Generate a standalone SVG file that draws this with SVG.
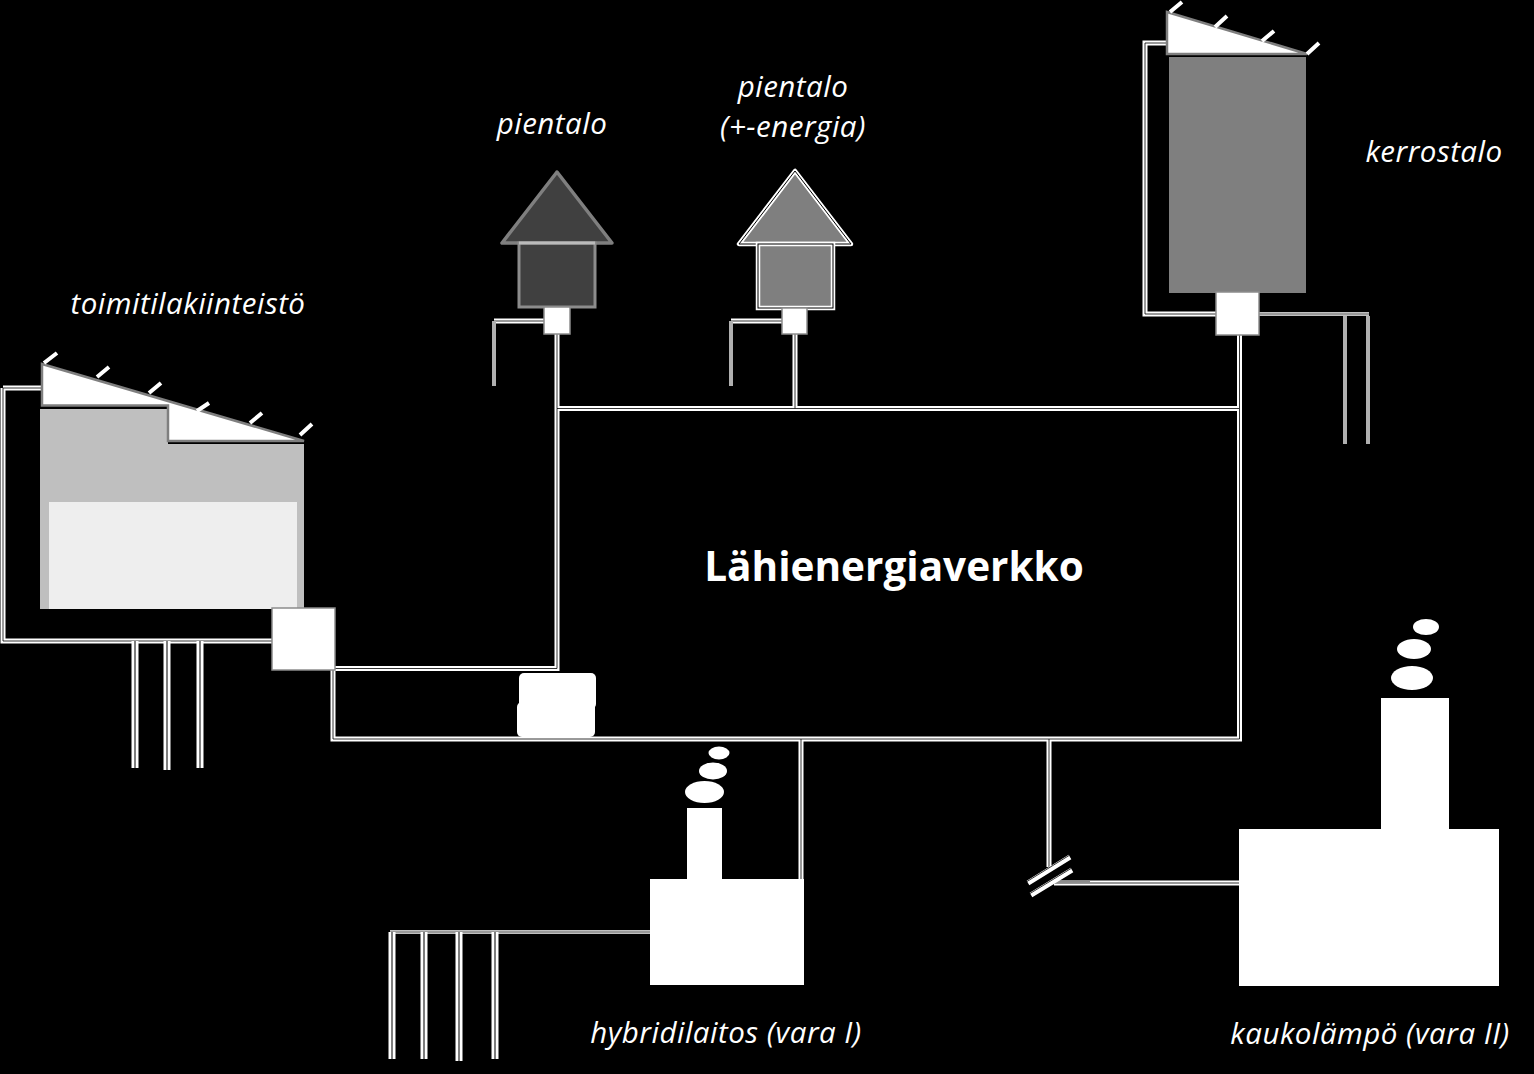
<svg xmlns="http://www.w3.org/2000/svg" width="1534" height="1074" viewBox="0 0 1534 1074">
<style>
text{font-family:"Open Sans","Noto Sans","Liberation Sans",sans-serif;fill:#fff}
.lbl{font-size:29.500px;font-style:italic;letter-spacing:.5px}
.title{font-size:40.500px;font-weight:700}
.w{fill:#fff}
.box{fill:#fff;stroke:#8c8c8c;stroke-width:1.5}
.solar{fill:#fff;stroke:#7f7f7f;stroke-width:2.5}
.tick{stroke:#fff;stroke-width:4;fill:none}
.o{fill:none;stroke:#fff;stroke-width:5}
.i{fill:none;stroke:#000;stroke-width:.8}
.t{fill:none;stroke:#fff;stroke-width:3.5}
.p{fill:none;stroke:#fff;stroke-width:7}
.q{fill:none;stroke:#555;stroke-width:1.5}
.g{fill:none;stroke:#b0b0b0;stroke-width:4}
</style>
<defs>
<path id="net" d="M557 408.500H1239.500V739H333V670M557 408.500V668.500H335M557 334V408.500M795 334V408.500M1239.500 335V408.500M801 739V879M1049 739V867M3 388H42M3 388V641H272M544 321H494M782 321H731M1167 43H1145V314H1216"/>
<path id="thin" d="M1259 314H1369M650 932H390"/>
<path id="gp" d="M135 641V768M167 641V770M200 641V768M392 932V1059M424 932V1059M459 932V1061M495 932V1059"/>
</defs>
<rect width="1534" height="1074" fill="#000"/>
<g id="connectors">
<use href="#net" class="o"/>
<use href="#net" class="i"/>
<use href="#thin" class="t"/>
<use href="#thin" class="i"/>
<use href="#gp" class="p"/>
<use href="#gp" class="q"/>
<path class="g" d="M494 321V386M731 321V386M1345 316V444M1368 316V444"/>
<path d="M1054 883H1239" fill="none" stroke="#fff" stroke-width="5"/>
<path d="M1054 883H1239" fill="none" stroke="#777" stroke-width="1.5"/>
<path d="M1054 881.500H1090" fill="none" stroke="#8c8c8c" stroke-width="2.500"/>
<g id="break">
<path d="M1028 883L1070 857M1031 895L1072 870" fill="none" stroke="#fff" stroke-width="5"/>
<path d="M1028 883L1070 857M1031 895L1072 870" fill="none" stroke="#000" stroke-width="0.8" transform="translate(-1 -1.5)"/>
</g>
</g>
<g id="network-label"><text class="title" x="894" y="581" text-anchor="middle">Lähienergiaverkko</text></g>
<g id="toimitila">
<path fill="#bfbfbf" d="M40 409H168V444H304V609H40Z"/>
<rect x="49" y="502" width="248" height="107" fill="#eee"/>
<path class="solar" d="M42 364L304 441H168V405.500H42Z"/>
<path class="tick" d="M44 363L57 353M97 377L109 367M149 393L161 383M197 411L209 403M250 423L262 413M300 435L312 424"/>
<rect class="box" x="272" y="608" width="63" height="62"/>
<text class="lbl" x="188" y="314" text-anchor="middle">toimitilakiinteistö</text>
</g>
<g id="pientalo1">
<path d="M557 172L502 243H612Z" fill="#404040" stroke="#7f7f7f" stroke-width="3.500" stroke-linejoin="round"/>
<rect x="519" y="243" width="76" height="64" fill="#404040" stroke="#8c8c8c" stroke-width="3"/>
<path d="M519 243H595" stroke="#bbb" stroke-width="3" fill="none"/>
<rect class="box" x="544" y="307" width="26" height="27"/>
<text class="lbl" x="552" y="134" text-anchor="middle">pientalo</text>
</g>
<g id="pientalo2">
<path d="M795 171L739 244H851Z" fill="#7f7f7f" stroke="#fff" stroke-width="4.500" stroke-linejoin="round"/>
<path d="M795 171L739 244H851Z" fill="none" stroke="#000" stroke-width="1" stroke-linejoin="round"/>
<rect x="758" y="244" width="75" height="64" fill="#7f7f7f" stroke="#fff" stroke-width="4.500"/>
<rect x="758" y="244" width="75" height="64" fill="none" stroke="#000" stroke-width="1"/>
<rect class="box" x="782" y="308" width="25" height="26"/>
<text class="lbl" x="793" y="97" text-anchor="middle">pientalo</text>
<text class="lbl" x="793" y="137" text-anchor="middle">(+-energia)</text>
</g>
<g id="kerrostalo">
<rect x="1169" y="57" width="137" height="236" fill="#7f7f7f"/>
<path class="solar" d="M1167 12L1307 54H1167Z"/>
<path class="tick" d="M1170 12L1182 2M1215 27L1227 16M1262 41L1274 31M1307 54L1319 43"/>
<rect class="box" x="1216" y="292" width="43" height="43"/>
<text class="lbl" x="1434" y="162" text-anchor="middle">kerrostalo</text>
</g>
<g id="vaihdin">
<rect class="w" x="519" y="673" width="77" height="36" rx="5"/>
<rect class="w" x="517" y="702" width="78" height="35" rx="5"/>
</g>
<g id="hybridilaitos">
<rect class="w" x="650" y="879" width="154" height="106"/>
<rect class="w" x="687" y="808" width="35" height="72"/>
<ellipse class="w" cx="704.500" cy="792" rx="19.500" ry="11"/>
<ellipse class="w" cx="713" cy="771" rx="14" ry="8.500"/>
<ellipse class="w" cx="719" cy="753" rx="10.500" ry="6.500"/>
<text class="lbl" x="726" y="1043" text-anchor="middle">hybridilaitos (vara I)</text>
</g>
<g id="kaukolampo">
<rect class="w" x="1239" y="829" width="260" height="157"/>
<rect class="w" x="1381" y="698" width="68" height="132"/>
<ellipse class="w" cx="1412" cy="678" rx="21" ry="12"/>
<ellipse class="w" cx="1414" cy="649" rx="17" ry="10"/>
<ellipse class="w" cx="1426" cy="627" rx="13" ry="8"/>
<text class="lbl" x="1370" y="1044" text-anchor="middle">kaukolämpö (vara II)</text>
</g>
</svg>
